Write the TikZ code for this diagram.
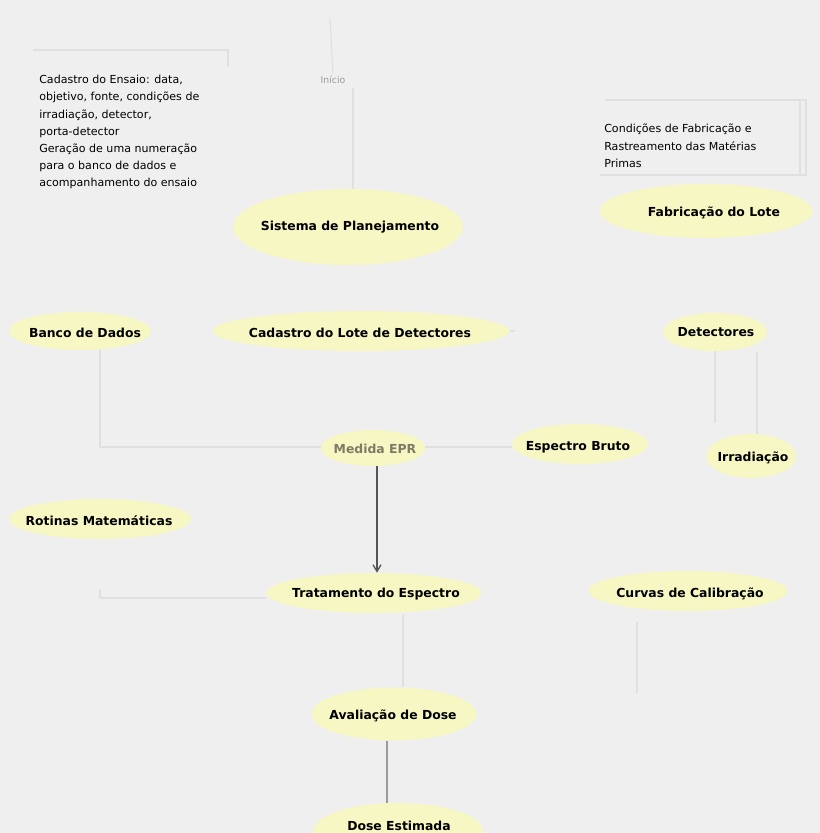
\documentclass[tikz,border=0pt]{standalone}
\usepackage{fontspec}
\setmainfont{DejaVu Sans}
\usetikzlibrary{arrows.meta,shapes.geometric}
\definecolor{pagebg}{HTML}{EFEFEF}
\definecolor{bubble}{HTML}{F7F7C4}
\definecolor{faint}{HTML}{E0E0E0}
\definecolor{midgray}{HTML}{9A9A9A}
\definecolor{eprtext}{HTML}{7C7C66}
\definecolor{darkline}{HTML}{555555}
\tikzset{
  proc/.style={ellipse, fill=bubble, inner sep=0pt},
  lbl/.style={inner sep=1pt, font=\bfseries\fontsize{9.3}{10}\selectfont, text=black},
  note/.style={align=left, anchor=north west, inner sep=0pt, font=\fontsize{8.3}{12.9}\selectfont, text=black},
  weak/.style={draw=faint, line width=0.8pt},
  strong/.style={draw=darkline, line width=1pt, -{Straight Barb[length=5pt,width=6pt]}},
  plain/.style={draw=midgray, line width=0.9pt}
}
\begin{document}
\begin{tikzpicture}[x=0.75pt,y=-0.75pt]
\useasboundingbox (0,0) rectangle (820,833);
\clip (0,0) rectangle (820,833);
\fill[pagebg] (0,0) rectangle (820,833);

% ellipse sizes are given in pixels of the final page (1px = 0.75pt)
\node[proc, minimum width=230*0.75pt, minimum height=76*0.75pt] (plan) at (348,227) {};
\node[lbl] (plantext) at (350,227) {Sistema de Planejamento};
\node[proc, minimum width=213*0.75pt, minimum height=54*0.75pt] (fab) at (706,211) {};
\node[lbl] (fabtext) at (714,213) {Fabricação do Lote};
\node[proc, minimum width=142*0.75pt, minimum height=38*0.75pt] (banco) at (80,331) {};
\node[lbl] (bancotext) at (85,333) {Banco de Dados};
\node[proc, minimum width=297*0.75pt, minimum height=40*0.75pt] (cad) at (361,331) {};
\node[lbl] (cadtext) at (360,333) {Cadastro do Lote de Detectores};
\node[proc, minimum width=104*0.75pt, minimum height=38*0.75pt] (det) at (715,332) {};
\node[lbl] (dettext) at (716,332) {Detectores};
\node[proc, minimum width=104*0.75pt, minimum height=36*0.75pt] (epr) at (373,448) {};
\node[lbl, text=eprtext] (eprtext) at (375,449) {Medida EPR};
\node[proc, minimum width=136*0.75pt, minimum height=40*0.75pt] (bruto) at (580,444) {};
\node[lbl] (brutotext) at (578,447) {Espectro Bruto};
\node[proc, minimum width=90*0.75pt, minimum height=44*0.75pt] (irr) at (751,456) {};
\node[lbl] (irrtext) at (753,458) {Irradiação};
\node[proc, minimum width=182*0.75pt, minimum height=40*0.75pt] (rot) at (100,519) {};
\node[lbl] (rottext) at (99,521) {Rotinas Matemáticas};
\node[proc, minimum width=215*0.75pt, minimum height=40*0.75pt] (trat) at (374,593) {};
\node[lbl] (trattext) at (376,594) {Tratamento do Espectro};
\node[proc, minimum width=199*0.75pt, minimum height=40*0.75pt] (curv) at (688,591) {};
\node[lbl] (curvtext) at (690,594) {Curvas de Calibração};
\node[proc, minimum width=165*0.75pt, minimum height=53*0.75pt] (aval) at (394,714) {};
\node[lbl] (avaltext) at (393,716) {Avaliação de Dose};
\node[proc, minimum width=170*0.75pt, minimum height=56*0.75pt] (dose) at (398,831) {};
\node[lbl] (dosetext) at (399,826) {Dose Estimada};

% annotations
\node[note] (ensaio) at (39,75) {Cadastro do Ensaio: data,\\objetivo, fonte, condições de\\irradiação, detector,\\porta-detector\\Geração de uma numeração\\para o banco de dados e\\acompanhamento do ensaio};
\node[note] (cond) at (604,124) {Condições de Fabricação e\\Rastreamento das Matérias\\Primas};
\node[inner sep=1pt, font=\fontsize{7}{8}\selectfont, text=midgray] (inicio) at (333,80) {Início};

% note frames
\coordinate (e1) at (33,50);
\coordinate (e2) at (228,50);
\coordinate (e3) at (228,66);
\draw[weak] (e1) -- (e2) -- (e3);
\coordinate (c1) at (605,100);
\coordinate (c2) at (806,100);
\coordinate (c3) at (806,175);
\coordinate (c4) at (600,175);
\draw[weak] (c1) -- (c2) -- (c3) -- (c4);
\coordinate (c5) at (800,100);
\draw[weak] (c5) -- ++(0,75);

% connectors
\coordinate (top) at (330,18);
\draw[weak] (top) -- (inicio.north);
\coordinate (i1) at (353,88);
\draw[weak] (i1) -- (i1 |- plan.north);
\coordinate (b1) at (100,447);
\draw[weak] (banco.south -| b1) -- (b1) -- (b1 -| epr.west);
\coordinate (cadend) at (515,331);
\draw[weak] (cad.east) -- (cadend);
\coordinate (m1) at (425,447);
\draw[weak] (m1) -- (m1 -| bruto.west);
\coordinate (dd) at (715,423);
\draw[weak] (det.south) -- (dd);
\coordinate (d2) at (757,352);
\draw[weak] (d2) -- (d2 |- irr.north);
\coordinate (e0) at (377,466);
\draw[strong] (e0) -- (e0 |- trat.north);
\coordinate (t1) at (100,598);
\draw[weak] (t1) -- (t1 -| trat.west);
\draw[weak] (t1) -- ++(0,-8);
\coordinate (t2) at (403,615);
\draw[weak] (t2) -- (t2 |- aval.north);
\coordinate (cv) at (637,622);
\draw[weak] (cv) -- ++(0,71);
\coordinate (a1) at (387,741);
\draw[plain] (a1) -- (a1 |- dose.north);
\end{tikzpicture}
\end{document}
